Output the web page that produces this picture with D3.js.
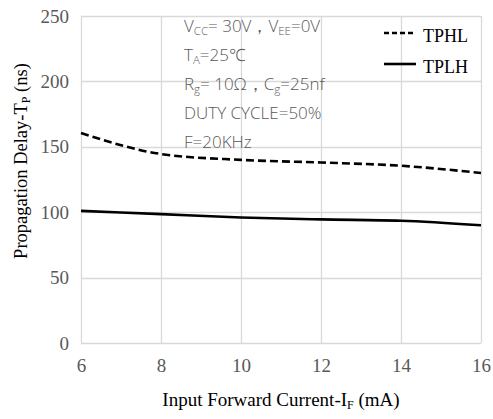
<!DOCTYPE html>
<html>
<head>
<meta charset="utf-8">
<script src="https://cdn.jsdelivr.net/npm/d3@7"></script>
<style>
  body { margin: 0; background: #fff; }
  svg { display: block; }
</style>
</head>
<body>
<div id="chart"></div>
<script>
var current = [6, 8, 10, 12, 14, 16];
var tphl = [160.5, 144.5, 140, 138, 135.5, 130];
var tplh = [101, 98.5, 96, 94.5, 93.5, 90];
var yTicks = [0, 50, 100, 150, 200, 250];
var xTicks = [6, 8, 10, 12, 14, 16];
var notes = [
  [["V", ""], ["CC", "sub"], ["= 30V，V", ""], ["EE", "sub"], ["=0V", ""]],
  [["T", ""], ["A", "sub"], ["=25℃", ""]],
  [["R", ""], ["g", "sub"], ["= 10Ω，C", ""], ["g", "sub"], ["=25nf", ""]],
  [["DUTY CYCLE=50%", ""]],
  [["F=20KHz", ""]]
];

var width = 493, height = 419;
var margin = { top: 16, right: 12, bottom: 76, left: 81 };
var serif = "'Liberation Serif', 'DejaVu Serif', serif";
var sans = "'Open Sans', 'Noto Sans', sans-serif";
var grid_color = "#d9d9d9";
var text_color = "#595959";

var svg = d3
  .select("#chart")
  .append("svg")
  .attr("width", width)
  .attr("height", height);

var x = d3
  .scaleLinear()
  .domain([6, 16])
  .range([margin.left, width - margin.right]);
var y = d3
  .scaleLinear()
  .domain([0, 250])
  .range([height - margin.bottom, margin.top]);

// gridlines
svg
  .append("g")
  .selectAll("line")
  .data(yTicks)
  .enter()
  .append("line")
  .attr("x1", x(6))
  .attr("x2", x(16))
  .attr("y1", (d) => Math.round(y(d)) + 0.5)
  .attr("y2", (d) => Math.round(y(d)) + 0.5)
  .attr("stroke", grid_color)
  .attr("stroke-width", 1.3);
svg
  .append("g")
  .selectAll("line")
  .data(xTicks)
  .enter()
  .append("line")
  .attr("x1", (d) => Math.round(x(d)) + 0.5)
  .attr("x2", (d) => Math.round(x(d)) + 0.5)
  .attr("y1", y(0))
  .attr("y2", y(250))
  .attr("stroke", grid_color)
  .attr("stroke-width", 1.3);

// axes (labels only)
var yAxis = svg
  .append("g")
  .attr("transform", `translate(${margin.left},0)`)
  .call(d3.axisLeft(y).tickValues(yTicks).tickSize(0).tickPadding(12));
var xAxis = svg
  .append("g")
  .attr("transform", `translate(0,${y(0)})`)
  .call(d3.axisBottom(x).tickValues(xTicks).tickSize(0).tickPadding(16));
[yAxis, xAxis].forEach((a) => {
  a.select(".domain").remove();
  a.selectAll("text")
    .attr("fill", text_color)
    .style("font-family", serif)
    .style("font-size", "19px");
});

// lines
var line = d3
  .line()
  .x((d) => x(d[0]))
  .y((d) => y(d[1]))
  .curve(d3.curveMonotoneX);

svg
  .append("path")
  .attr("d", line(d3.zip(current, tphl)))
  .attr("fill", "none")
  .attr("stroke", "#000")
  .attr("stroke-width", 2.6)
  .attr("stroke-dasharray", "8,4");
svg
  .append("path")
  .attr("d", line(d3.zip(current, tplh)))
  .attr("fill", "none")
  .attr("stroke", "#000")
  .attr("stroke-width", 2.6);

// condition notes
var notesG = svg
  .append("g")
  .style("font-family", sans)
  .style("font-size", "17px")
  .style("font-weight", 300)
  .attr("fill", text_color);
notes.forEach((parts, i) => {
  var t = notesG
    .append("text")
    .attr("x", 184)
    .attr("y", 32 + i * 29);
  parts.forEach((p, j) => {
    var ts = t.append("tspan").text(p[0]);
    if (p[1] == "sub") {
      ts.style("font-size", "11.5px").attr("dy", 3);
    } else if (j > 0) {
      ts.attr("dy", -3);
    }
  });
});

// legend
var legend = [
  { name: "TPHL", dash: "5,3", ly: 33 },
  { name: "TPLH", dash: null, ly: 64 }
];
legend.forEach((l) => {
  svg
    .append("line")
    .attr("x1", 384)
    .attr("x2", 416)
    .attr("y1", l.ly)
    .attr("y2", l.ly)
    .attr("stroke", "#000")
    .attr("stroke-width", 2.6)
    .attr("stroke-dasharray", l.dash);
  svg
    .append("text")
    .attr("x", 423)
    .attr("y", l.ly + 9)
    .style("font-family", serif)
    .style("font-size", "18px")
    .attr("fill", "#000")
    .text(l.name);
});

// axis titles
var xt = svg
  .append("text")
  .attr("x", 281)
  .attr("y", 406)
  .attr("text-anchor", "middle")
  .style("font-family", serif)
  .style("font-size", "19px")
  .attr("fill", "#000");
xt.append("tspan").text("Input Forward Current-I");
xt.append("tspan").text("F").style("font-size", "12px").attr("dy", 3);
xt.append("tspan").text(" (mA)").attr("dy", -3);

var yt = svg
  .append("text")
  .attr("transform", `translate(27,161) rotate(-90)`)
  .attr("text-anchor", "middle")
  .style("font-family", serif)
  .style("font-size", "18.5px")
  .attr("fill", "#000");
yt.append("tspan").text("Propagation Delay-T");
yt.append("tspan").text("P").style("font-size", "12px").attr("dy", 3);
yt.append("tspan").text(" (ns)").attr("dy", -3);
</script>
</body>
</html>
